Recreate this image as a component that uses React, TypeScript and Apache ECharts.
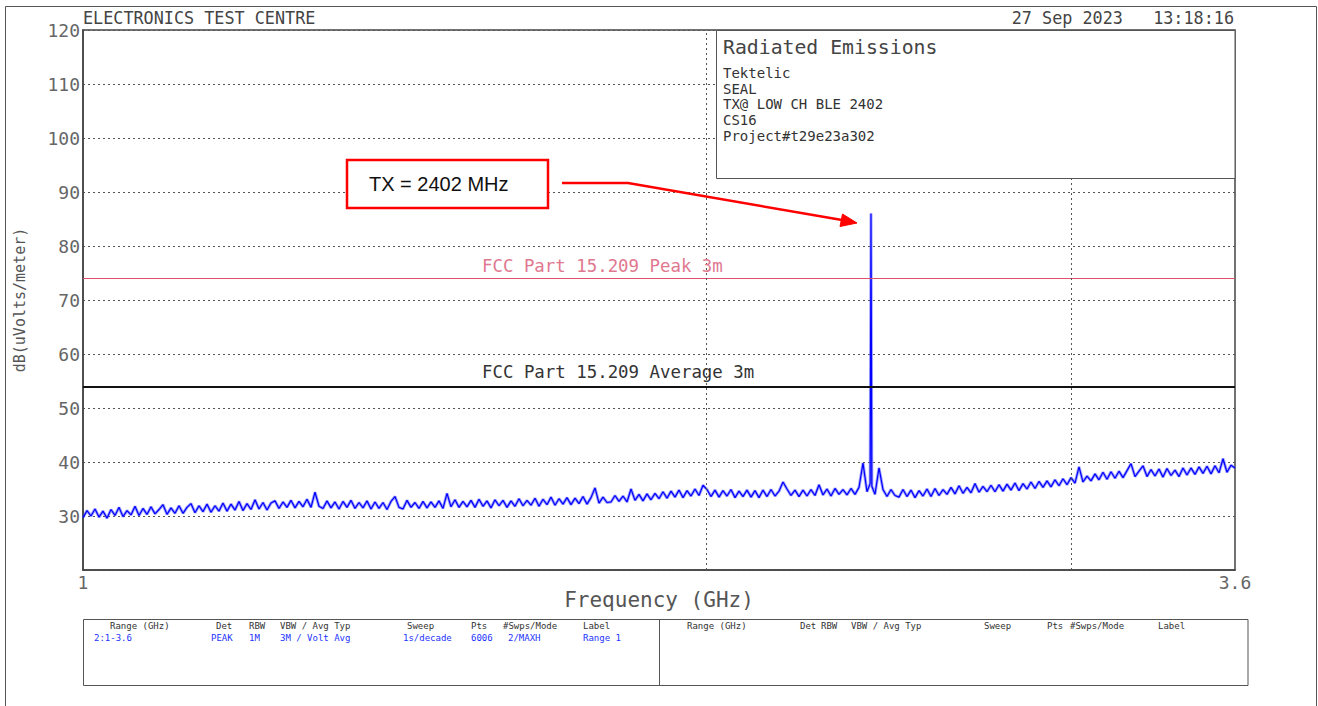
import React, { useEffect, useRef } from "react";
import * as echarts from "echarts";

// ---- Sweep definition (from the results table: 1-3.6 GHz, log sweep) ----
const SWEEP_START_GHZ = 1;
const SWEEP_STOP_GHZ = 3.6;

const traceDb: number[] = [
  29.7, 31.0, 30.0, 31.3, 29.8, 30.9, 29.6, 31.2, 30.1, 31.6, 29.9, 31.0,
  30.2, 31.8, 30.1, 31.4, 30.3, 31.7, 30.4, 31.2, 32.1, 30.3, 31.5, 30.5,
  31.9, 30.5, 31.6, 32.3, 30.6, 31.9, 30.8, 32.2, 30.7, 31.9, 30.9, 32.4,
  30.9, 32.2, 31.1, 32.7, 31.0, 32.3, 31.2, 33.0, 31.3, 32.5, 31.1, 32.4,
  32.8, 31.4, 32.6, 31.6, 32.9, 31.5, 32.7, 31.7, 33.1, 31.6, 34.4, 31.8,
  31.4, 32.8, 31.5, 32.6, 31.3, 32.7, 31.6, 32.9, 31.4, 32.5, 31.5, 32.8,
  31.3, 32.6, 31.4, 32.5, 31.2, 32.7, 33.6, 31.6, 31.3, 32.9, 31.6, 32.5,
  31.4, 32.7, 31.5, 32.6, 31.6, 32.8, 31.4, 34.2, 31.7, 33.0, 31.6, 32.7,
  31.7, 32.9, 31.6, 33.1, 31.8, 32.8, 31.5, 33.0, 31.9, 32.9, 31.6, 32.8,
  31.8, 33.2, 31.9, 32.9, 32.0, 33.3, 31.8, 33.1, 32.1, 33.5, 32.0, 33.2,
  32.2, 33.4, 32.1, 33.3, 32.3, 33.6, 32.2, 33.4, 35.2, 32.4, 33.5, 32.5,
  32.6, 33.8, 32.7, 33.7, 32.6, 35.0, 32.9, 34.0, 32.8, 34.1, 33.0, 34.2,
  33.2, 34.5, 33.3, 34.6, 33.5, 34.8, 33.4, 34.7, 33.7, 35.0, 33.8, 35.7,
  34.9, 33.6, 34.8, 33.5, 34.7, 33.7, 34.9, 33.4, 34.6, 33.6, 34.8, 33.5,
  34.7, 33.4, 34.8, 33.6, 34.9, 33.7, 34.6, 36.3, 35.0, 33.8, 34.8, 33.6,
  34.8, 33.7, 34.9, 33.8, 35.8, 33.9, 35.0, 33.7, 35.1, 34.0, 34.9, 33.9,
  35.1, 34.0, 35.3, 39.8, 34.5, 86.0, 34.0, 38.9, 34.9, 33.6, 34.9, 33.8,
  33.5, 34.9, 33.6, 34.8, 33.4, 34.7, 33.7, 35.0, 33.6, 35.1, 33.8, 34.9,
  34.0, 35.3, 34.1, 35.6, 34.2, 35.3, 34.3, 36.0, 34.4, 35.5, 34.5, 35.7,
  34.5, 35.8, 34.6, 35.9, 34.8, 36.1, 34.7, 36.0, 35.0, 36.3, 35.1, 36.4,
  35.3, 36.5, 35.4, 36.7, 35.6, 36.9, 35.8, 37.1, 36.1, 39.1, 36.3, 37.4,
  36.5, 37.8, 36.7, 38.1, 36.8, 38.2, 37.0, 38.3, 37.1, 38.4, 39.7, 37.3,
  38.3, 39.3, 37.3, 38.6, 37.4, 38.7, 37.2, 38.8, 37.5, 38.5, 37.3, 38.9,
  37.6, 38.9, 37.7, 39.1, 37.9, 39.2, 37.8, 39.3, 38.0, 40.6, 38.1, 39.4,
  38.9,
];

// ---- Carrier flanks around the 2402 MHz peak: [GHz, dBuV/m] ----
const carrierFlanks: [number, number][] = [
  [2.3995, 36.0],
  [2.401, 69.0],
  [2.4025, 69.0],
  [2.404, 35.5],
];

// ---- Limits and axes ----
const peakLimitDb = 74;
const avgLimitDb = 54;
const peakLimitLabel = "FCC Part 15.209 Peak 3m";
const avgLimitLabel = "FCC Part 15.209 Average 3m";
const freqGridLines = [2, 3];
const xTickLabels = [1, 3.6];
const yMin = 20;
const yMax = 120;
const yStep = 10;

// ---- Header / info texts ----
const headerLeft = "ELECTRONICS TEST CENTRE";
const headerRight = "27 Sep 2023   13:18:16";
const infoTitle = "Radiated Emissions";
const infoLines = ["Tektelic", "SEAL", "TX@ LOW CH BLE 2402", "CS16", "Project#t29e23a302"];
const calloutText = "TX = 2402 MHz";

const tableHeaders = ["Range (GHz)", "Det", "RBW", "VBW / Avg Typ", "Sweep", "Pts", "#Swps/Mode", "Label"];
const tableRow1 = ["2:1-3.6", "PEAK", "1M", "3M / Volt Avg", "1s/decade", "6006", "2/MAXH", "Range 1"];
const tableHeaderXLeft = [110, 216, 249, 280, 407, 471, 503, 583];
const tableRowXLeft = [94, 211, 249, 280, 403, 471, 508, 583];
const tableHeaderXRight = [687, 800, 821, 851, 984, 1047, 1070, 1158];

const MONO = "DejaVu Sans Mono";
const SANS = "Liberation Sans";

function buildTrace(): [number, number][] {
  const n = traceDb.length;
  const pts: [number, number][] = traceDb.map((db, i) => [
    SWEEP_START_GHZ * Math.pow(SWEEP_STOP_GHZ / SWEEP_START_GHZ, i / (n - 1)),
    db,
  ]);
  const all = pts.concat(carrierFlanks);
  all.sort((a, b) => a[0] - b[0]);
  return all;
}

export default function App() {
  const ref = useRef<HTMLDivElement>(null);

  useEffect(() => {
    if (!ref.current) return;
    const chart = echarts.init(ref.current, undefined, { renderer: "svg" });
    const data = buildTrace();

    const option: any = {
      animation: false,
      backgroundColor: "#ffffff",
      grid: {
        left: 83,
        top: 30,
        right: 83,
        bottom: 136,
        show: true,
        borderColor: "#444",
        borderWidth: 1.5,
        backgroundColor: "transparent",
      },
      xAxis: {
        type: "log",
        logBase: 10,
        min: SWEEP_START_GHZ,
        max: SWEEP_STOP_GHZ,
        axisLine: { show: true, lineStyle: { color: "#444", width: 1.5 } },
        axisTick: { show: false },
        axisLabel: { show: false },
        splitLine: { show: false },
        minorSplitLine: { show: false },
        name: "Frequency (GHz)",
        nameLocation: "middle",
        nameGap: 19,
        nameTextStyle: { fontFamily: MONO, fontSize: 21, color: "#555" },
      },
      yAxis: {
        type: "value",
        min: yMin,
        max: yMax,
        interval: yStep,
        axisLine: { show: true, lineStyle: { color: "#444", width: 1.5 } },
        axisTick: { show: false },
        axisLabel: {
          formatter: (v: number) => (v === yMin ? "" : String(v)),
          fontFamily: MONO,
          fontSize: 18,
          color: "#666",
          margin: 3,
        },
        splitLine: { show: true, lineStyle: { color: "#555", type: [2, 3], width: 1 } },
        name: "dB(uVolts/meter)",
        nameLocation: "middle",
        nameGap: 56,
        nameRotate: 90,
        nameTextStyle: { fontFamily: MONO, fontSize: 15, color: "#555" },
      },
      series: [
        {
          name: "halo",
          type: "line",
          data,
          showSymbol: false,
          silent: true,
          lineStyle: { color: "rgba(70,70,255,0.5)", width: 3 },
          z: 2,
        },
        {
          name: "Peak trace",
          type: "line",
          data,
          showSymbol: false,
          silent: true,
          lineStyle: { color: "#0000ff", width: 1.2 },
          z: 3,
          markLine: {
            silent: true,
            symbol: ["none", "none"],
            animation: false,
            data: [
              {
                yAxis: peakLimitDb,
                lineStyle: { color: "#e0506e", width: 1.2, type: "solid" },
                label: {
                  show: true,
                  formatter: peakLimitLabel,
                  position: "insideStartTop",
                  distance: [399, 4],
                  color: "#e07890",
                  fontFamily: MONO,
                  fontSize: 17.4,
                },
              },
              {
                yAxis: avgLimitDb,
                lineStyle: { color: "#111", width: 2, type: "solid" },
                label: {
                  show: true,
                  formatter: avgLimitLabel,
                  position: "insideStartTop",
                  distance: [399, 6],
                  color: "#333",
                  fontFamily: MONO,
                  fontSize: 17.4,
                },
              },
              ...freqGridLines.map((f) => ({
                xAxis: f,
                lineStyle: { color: "#555", width: 1, type: [2, 3] },
                label: { show: false },
              })),
            ],
          },
        },
      ],
    };
    chart.setOption(option);

    const yBottom = chart.convertToPixel({ yAxisIndex: 0 }, yMin) as number;
    const tickTexts = xTickLabels.map((v, i) => ({
      type: "text",
      id: "xt" + i,
      x: chart.convertToPixel({ xAxisIndex: 0 }, v) as number,
      y: yBottom + 3,
      style: {
        text: String(v),
        fontFamily: MONO,
        fontSize: 18,
        fill: "#666",
        align: "center",
        verticalAlign: "top",
      },
      z: 10,
    }));

    const graphics: any[] = [
      // page frame
      {
        type: "rect",
        shape: { x: 5.5, y: 6.5, width: 1311, height: 720 },
        style: { fill: "none", stroke: "#555", lineWidth: 1 },
        z: 1,
      },
      {
        type: "text",
        x: 83,
        y: 18,
        style: { text: headerLeft, fontFamily: MONO, fontSize: 16.8, fill: "#444", verticalAlign: "middle" },
      },
      {
        type: "text",
        x: 1234,
        y: 18,
        style: { text: headerRight, fontFamily: MONO, fontSize: 16.8, fill: "#444", align: "right", verticalAlign: "middle" },
      },
      // info box
      {
        type: "rect",
        shape: { x: 716.5, y: 30.5, width: 518.5, height: 148 },
        style: { fill: "#fff", stroke: "#555", lineWidth: 1 },
        z: 20,
      },
      {
        type: "text",
        x: 723,
        y: 47,
        style: { text: infoTitle, fontFamily: MONO, fontSize: 19.8, fill: "#444", verticalAlign: "middle" },
        z: 21,
      },
      ...infoLines.map((t, i) => ({
        type: "text",
        x: 723,
        y: 73 + i * 15.7,
        style: { text: t, fontFamily: MONO, fontSize: 14, fill: "#333", verticalAlign: "middle" },
        z: 21,
      })),
      // callout
      {
        type: "rect",
        shape: { x: 347, y: 160, width: 201, height: 48 },
        style: { fill: "#fff", stroke: "#ff0000", lineWidth: 2.5 },
        z: 22,
      },
      {
        type: "text",
        x: 369,
        y: 184,
        style: { text: calloutText, fontFamily: SANS, fontSize: 20, fill: "#111", verticalAlign: "middle" },
        z: 23,
      },
      {
        type: "polyline",
        shape: { points: [[562, 183], [628, 183], [842, 220]] },
        style: { stroke: "#ff0000", lineWidth: 2.5, fill: "none" },
        z: 22,
      },
      {
        type: "polygon",
        shape: { points: [[857, 223], [840, 226.5], [842.5, 214]] },
        style: { fill: "#ff0000", stroke: "#ff0000", lineWidth: 1 },
        z: 22,
      },
      // results table
      {
        type: "rect",
        shape: { x: 83.5, y: 619.5, width: 1164.5, height: 66 },
        style: { fill: "none", stroke: "#555", lineWidth: 1 },
      },
      {
        type: "line",
        shape: { x1: 659.5, y1: 619.5, x2: 659.5, y2: 685.5 },
        style: { stroke: "#555", lineWidth: 1 },
      },
      ...tableHeaders.map((t, i) => ({
        type: "text",
        x: tableHeaderXLeft[i],
        y: 626,
        style: { text: t, fontFamily: MONO, fontSize: 9, fill: "#333", verticalAlign: "middle" },
      })),
      ...tableRow1.map((t, i) => ({
        type: "text",
        x: tableRowXLeft[i],
        y: 638,
        style: { text: t, fontFamily: MONO, fontSize: 9, fill: "#2233ff", verticalAlign: "middle" },
      })),
      ...tableHeaders.map((t, i) => ({
        type: "text",
        x: tableHeaderXRight[i],
        y: 626,
        style: { text: t, fontFamily: MONO, fontSize: 9, fill: "#333", verticalAlign: "middle" },
      })),
      ...tickTexts,
    ];
    chart.setOption({ graphic: graphics });

    return () => chart.dispose();
  }, []);

  return (
    <div
      ref={ref}
      style={{ position: "absolute", left: 0, top: 0, width: 1318, height: 706, background: "#fff" }}
    />
  );
}
